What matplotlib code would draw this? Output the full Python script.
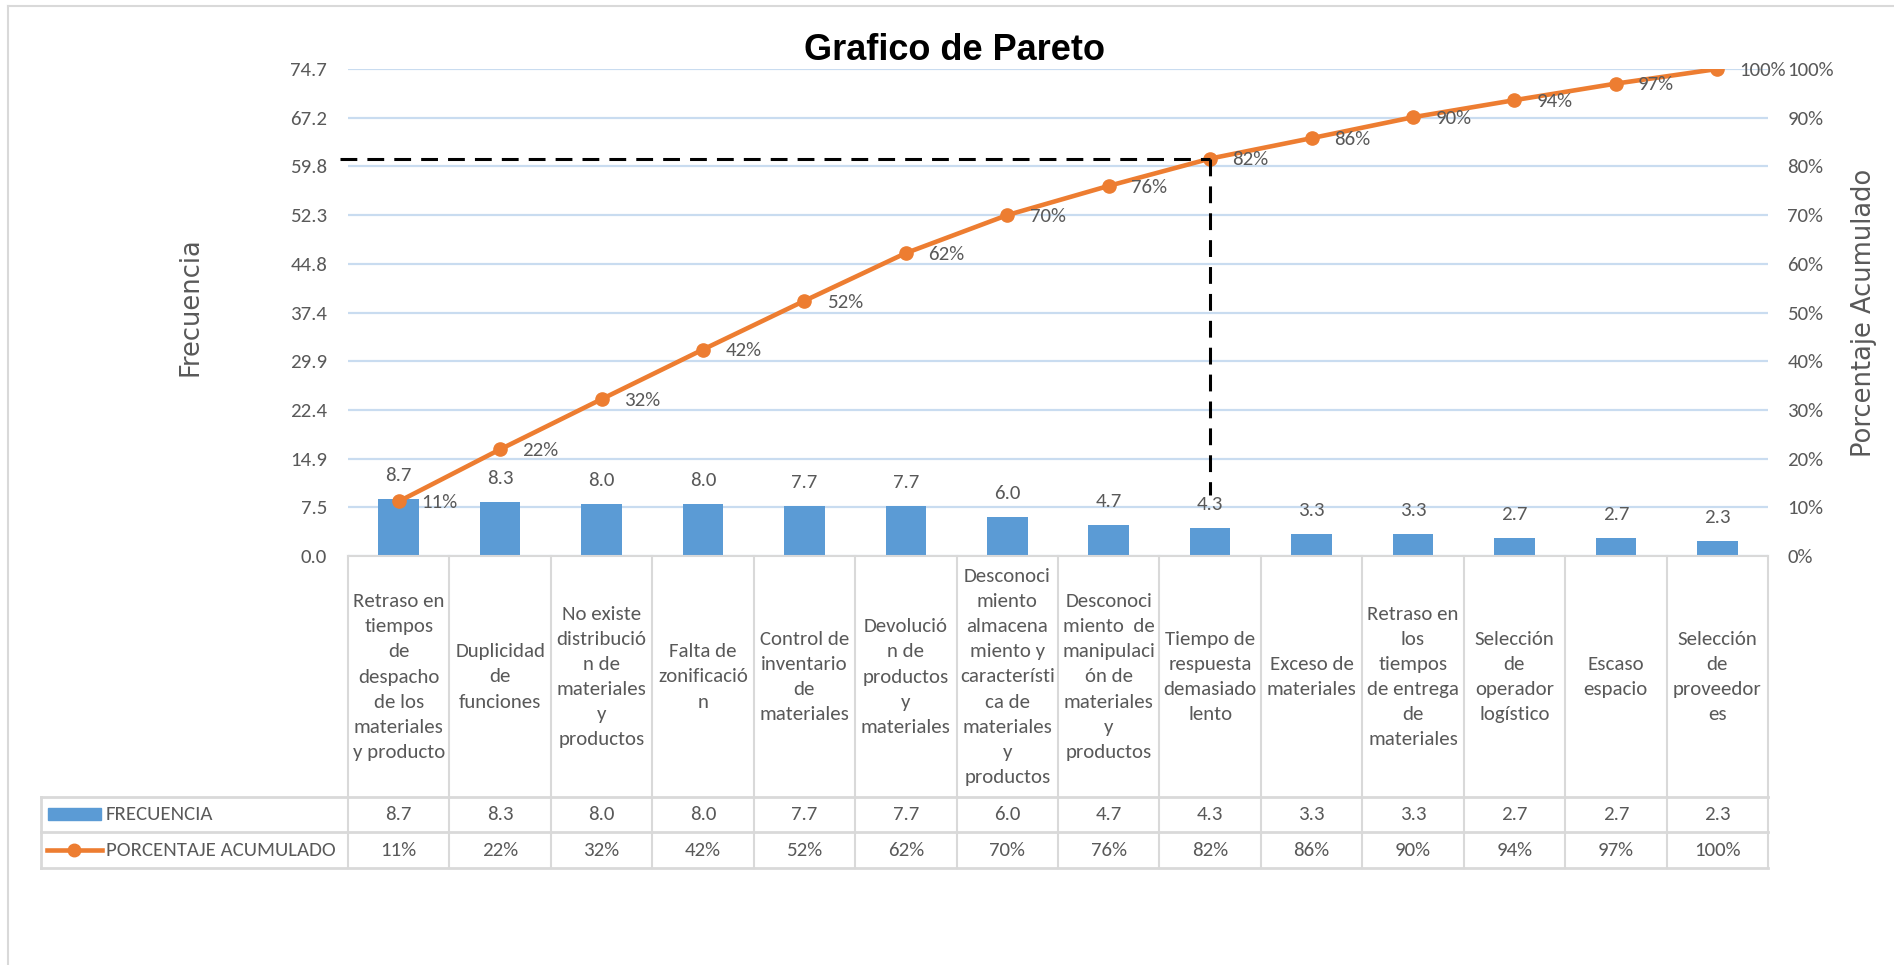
import numpy as np
import matplotlib.pyplot as plt
import matplotlib.transforms as mtransforms
from matplotlib import font_manager
from matplotlib.lines import Line2D
from matplotlib.patches import Rectangle

categorias = [
    "Retraso en\ntiempos\nde\ndespacho\nde los\nmateriales\ny producto",
    "Duplicidad\nde\nfunciones",
    "No existe\ndistribució\nn de\nmateriales\ny\nproductos",
    "Falta de\nzonificació\nn",
    "Control de\ninventario\nde\nmateriales",
    "Devolució\nn de\nproductos\ny\nmateriales",
    "Desconoci\nmiento\nalmacena\nmiento y\ncaracterísti\nca de\nmateriales\ny\nproductos",
    "Desconoci\nmiento  de\nmanipulaci\nón de\nmateriales\ny\nproductos",
    "Tiempo de\nrespuesta\ndemasiado\nlento",
    "Exceso de\nmateriales",
    "Retraso en\nlos\ntiempos\nde entrega\nde\nmateriales",
    "Selección\nde\noperador\nlogístico",
    "Escaso\nespacio",
    "Selección\nde\nproveedor\nes",
]
frecuencia = [8.7, 8.3, 8.0, 8.0, 7.7, 7.7, 6.0, 4.7, 4.3, 3.3, 3.3, 2.7, 2.7, 2.3]
porcentaje_acum = [11.2, 21.9, 32.2, 42.4, 52.4, 62.2, 70.0, 76.0, 81.6, 85.8, 90.1, 93.6, 97.0, 100.0]
frec_max = 74.7
etiquetas_frec = ["0.0", "7.5", "14.9", "22.4", "29.9", "37.4", "44.8", "52.3", "59.8", "67.2", "74.7"]
ticks_pct = list(range(0, 101, 10))

BLUE = "#5B9BD5"
ORANGE = "#ED7D31"
GRID = "#C9DCF0"
LINE = "#D9D9D9"
TXT = "#595959"

# fuente estrecha parecida a Calibri (la que haya instalada)
names = {f.name for f in font_manager.fontManager.ttflist}
opciones = [("Carlito", 1.0, 1.58), ("Liberation Sans Narrow", 1.08, 1.3),
            ("Roboto Condensed", 1.05, 1.3), ("Arimo", 0.86, 1.5)]
NARROW, ESC, INTERLINEA = "Liberation Sans", 0.86, 1.5
for nombre, esc, il in opciones:
    if nombre in names:
        NARROW, ESC, INTERLINEA = nombre, esc, il
        break
FS = 15 * ESC

W, H = 1894, 965


def fx(px):
    return px / W


def fy(py):
    return 1 - py / H


fig = plt.figure(figsize=(W / 100, H / 100), dpi=100)
ax = fig.add_axes([fx(348), fy(556), fx(1768) - fx(348), fy(69) - fy(556)])
ax2 = ax.twinx()

x = np.arange(len(categorias))
ax.bar(x, frecuencia, width=0.4, color=BLUE, zorder=2)
ax.set_xlim(-0.5, len(categorias) - 0.5)
ax.set_ylim(0, frec_max)
ax.set_yticks(np.linspace(0, frec_max, len(etiquetas_frec)))
ax.set_yticklabels(etiquetas_frec)
ax.set_xticks([])
ax.yaxis.grid(True, color=GRID, linewidth=1.6)
ax.set_axisbelow(True)
ax.tick_params(axis="y", length=0, pad=15, labelsize=FS, labelcolor=TXT)
for lab in ax.get_yticklabels():
    lab.set_family(NARROW)
for s in ["top", "left", "right"]:
    ax.spines[s].set_visible(False)
ax.spines["bottom"].set_color(LINE)
ax.spines["bottom"].set_linewidth(1.5)

for xi, v in zip(x, frecuencia):
    ax.annotate(f"{v:.1f}", (xi, v), xytext=(0, 11), textcoords="offset points",
                ha="center", va="bottom", fontsize=FS, color=TXT, family=NARROW)

ax2.set_ylim(0, 100)
ax2.set_yticks(ticks_pct)
ax2.set_yticklabels([f"{t}%" for t in ticks_pct])
ax2.tick_params(axis="y", length=0, pad=14, labelsize=FS, labelcolor=TXT)
for lab in ax2.get_yticklabels():
    lab.set_family(NARROW)
for s in ax2.spines.values():
    s.set_visible(False)

ax2.plot(x, porcentaje_acum, color=ORANGE, linewidth=3.3, marker="o", markersize=9.5, zorder=3)
for xi, p in zip(x, porcentaje_acum):
    ax2.annotate(f"{p:.0f}%", (xi, p), xytext=(16, -1), textcoords="offset points",
                 ha="left", va="center", fontsize=FS, color=TXT, family=NARROW)

# linea del 80%
idx = next(i for i, p in enumerate(porcentaje_acum) if p >= 80)
dash = (0, (5.5, 3.3))
ax2.plot([-0.58, idx], [porcentaje_acum[idx]] * 2, color="black", linewidth=2.2,
         linestyle=dash, clip_on=False, zorder=4)
ax2.plot([idx, idx], [porcentaje_acum[idx], 12.5], color="black", linewidth=2.2,
         linestyle=dash, clip_on=False, zorder=4)

# titulos
fig.text(fx(954), fy(51), "Grafico de Pareto", fontsize=26, weight="bold",
         family="Liberation Sans", ha="center", va="center")
fig.text(fx(190), fy(307), "Frecuencia", rotation=90, fontsize=18.5, color=TXT,
         ha="center", va="center")
fig.text(fx(1864), fy(313), "Porcentaje Acumulado", rotation=90, fontsize=18.5, color=TXT,
         ha="center", va="center")

# tabla de datos
trans = mtransforms.blended_transform_factory(ax.transData, fig.transFigure)
y_top, y_r1, y_r2, y_bot = fy(556), fy(797), fy(832), fy(868)

for xi, lab in zip(x, categorias):
    ax.text(xi, fy(677), lab, transform=trans, ha="center", va="center",
            multialignment="center", fontsize=FS, color=TXT, family=NARROW,
            linespacing=INTERLINEA, clip_on=False)
    ax.text(xi, (y_r1 + y_r2) / 2, f"{frecuencia[xi]:.1f}", transform=trans, ha="center",
            va="center", fontsize=FS, color=TXT, family=NARROW, clip_on=False)
    ax.text(xi, (y_r2 + y_bot) / 2, f"{porcentaje_acum[xi]:.0f}%", transform=trans,
            ha="center", va="center", fontsize=FS, color=TXT, family=NARROW, clip_on=False)

for b in np.arange(len(categorias) + 1) - 0.5:
    fig.add_artist(Line2D([b, b], [y_top, y_bot], transform=trans, color=LINE, linewidth=1.5))
for yy in [y_r1, y_r2, y_bot]:
    fig.add_artist(Line2D([fx(41), fx(1768)], [yy, yy], color=LINE, linewidth=2))
fig.add_artist(Line2D([fx(41), fx(41)], [y_r1, y_bot], color=LINE, linewidth=2))

fig.add_artist(Rectangle((fx(48), fy(820)), fx(101) - fx(48), fy(808) - fy(820),
                         color=BLUE, transform=fig.transFigure))
fig.add_artist(Line2D([fx(47), fx(102)], [fy(850)] * 2, color=ORANGE, linewidth=3.3))
fig.add_artist(Line2D([fx(74)], [fy(850)], color=ORANGE, marker="o", markersize=9))
fig.text(fx(106), (y_r1 + y_r2) / 2, "FRECUENCIA", fontsize=FS, color=TXT, family=NARROW,
         ha="left", va="center")
fig.text(fx(106), (y_r2 + y_bot) / 2, "PORCENTAJE ACUMULADO", fontsize=FS, color=TXT,
         family=NARROW, ha="left", va="center")

# borde del area del grafico
fig.add_artist(Line2D([fx(8), fx(8)], [fy(6), 0], color=LINE, linewidth=1.5))
fig.add_artist(Line2D([fx(8), 1], [fy(6), fy(6)], color=LINE, linewidth=1.5))

fig.savefig("out.png", dpi=100)
plt.close(fig)
